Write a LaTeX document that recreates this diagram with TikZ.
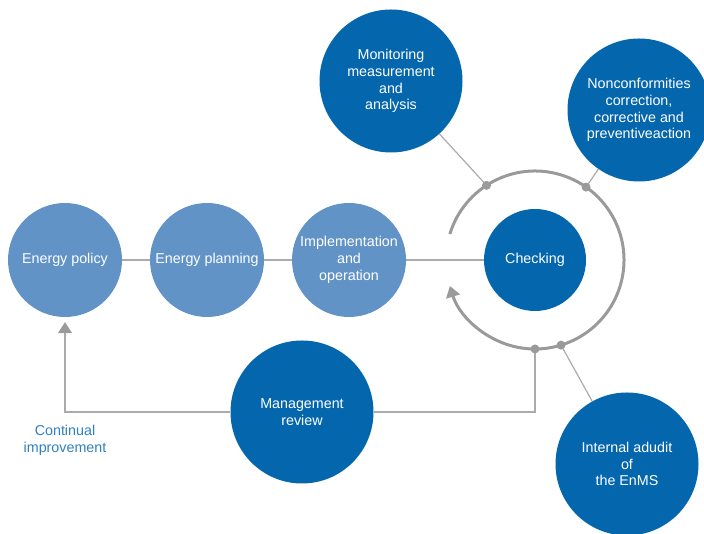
\documentclass[tikz,border=0pt]{standalone}
\usepackage{fontspec}
\setmainfont{Liberation Sans}
\usetikzlibrary{arrows.meta,calc}
\definecolor{lightblue}{HTML}{6193C7}
\definecolor{darkblue}{HTML}{0467AD}
\definecolor{linegray}{HTML}{ABABAB}
\definecolor{arcgray}{HTML}{9A9A9A}
\definecolor{textblue}{HTML}{2F80C2}

\begin{document}
\begin{tikzpicture}[x=1pt,y=1pt,
  lightnode/.style={circle, fill=lightblue, text=white, minimum size=114pt, inner sep=0pt, align=center, font=\fontsize{14.3}{16.7}\selectfont},
  darknode/.style={circle, fill=darkblue, text=white, minimum size=143pt, inner sep=0pt, align=center, font=\fontsize{14.3}{16.7}\selectfont},
  conn/.style={draw=linegray, line width=1.2pt},
  arcline/.style={draw=arcgray, line width=3pt},
  tip/.style={-{Triangle[width=14pt,length=11pt,color=arcgray]}}]
\useasboundingbox (0,0) rectangle (704,534);
\node[lightnode] (node_policy) [] at (65,274) {Energy policy};
\node[lightnode] (node_planning) [] at (207,274) {Energy planning};
\draw[conn] (node_policy) -- (node_planning);
\node[lightnode] (node_impl) [] at (349,274) {Implementation\\and\\operation};
\draw[conn] (node_planning) -- (node_impl);
\node[darknode, minimum size=102pt] (node_check) [] at (535,274) {Checking};
\draw[conn] (node_impl) -- (node_check);
\node[darknode] (node_monitor) [] at (391,453) {Monitoring\\measurement\\and\\analysis};
\node[darknode] (node_nonconf) [] at (639,424) {Nonconformities\\correction,\\corrective and\\preventiveaction};
\node[darknode] (node_review) [] at (302,122) {Management\\review};
\node[darknode] (node_audit) [] at (627,70) {Internal adudit\\of\\the EnMS};
\node[text=textblue, align=center, font=\fontsize{14.3}{16.7}\selectfont] (node_improve) [] at (65,94) {Continual\\improvement};
% ring round the checking step
\draw[arcline, tip] ($(node_check.center)+(163:89)$) arc[start angle=163, end angle=-163, radius=89];
\coordinate (dot_monitor) at ($(node_check.center)+(123:89)$);
\coordinate (dot_nonconf) at ($(node_check.center)+(55:89)$);
\coordinate (dot_review) at ($(node_check.center)+(-90:89)$);
\coordinate (dot_audit) at ($(node_check.center)+(-73:89)$);
\draw[conn] (node_monitor) -- (dot_monitor);
\draw[conn] (node_nonconf) -- (dot_nonconf);
\draw[conn] (node_audit) -- (dot_audit);
\draw[conn] (node_review.east) -| (dot_review);
\draw[conn, tip] (node_review.west) -| ([yshift=-5pt]node_policy.south);
\foreach \d in {dot_monitor,dot_nonconf,dot_review,dot_audit}
  \fill[arcgray] (\d) circle (4.5);
\end{tikzpicture}
\end{document}
